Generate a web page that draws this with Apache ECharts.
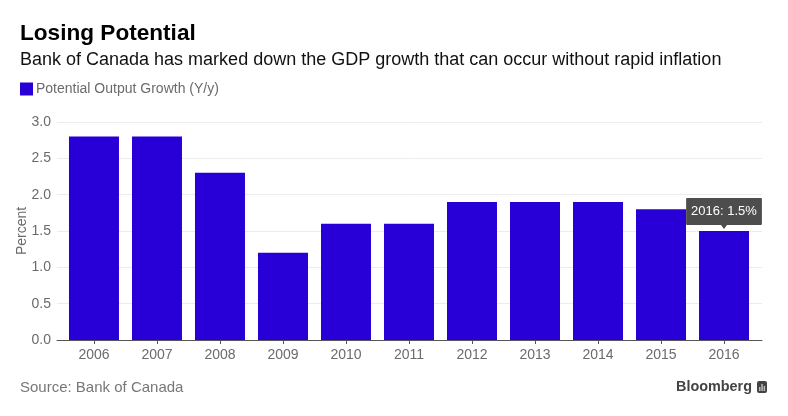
<!DOCTYPE html>
<html>
<head>
<meta charset="utf-8">
<style>
	html, body { margin: 0; padding: 0; background: #fff; }
	#chart { width: 788px; height: 416px; }
</style>
<script src="https://cdn.jsdelivr.net/npm/echarts@6/dist/echarts.min.js"></script>
</head>
<body>
<div id="chart"></div>
<script>
// Data
const years = [2006, 2007, 2008, 2009, 2010, 2011, 2012, 2013, 2014, 2015, 2016];
const growth = [2.8, 2.8, 2.3, 1.2, 1.6, 1.6, 1.9, 1.9, 1.9, 1.8, 1.5];
const seriesName = 'Potential Output Growth (Y/y)';

// Colors
const barColor = '#2800d7';
const greyText = '#6b6b6b';
const fontName = '"Liberation Sans", Arial, sans-serif';

const chart = echarts.init(document.getElementById('chart'), null, { renderer: 'canvas' });

const lastIndex = years.length - 1;

chart.setOption({
	animation: false,
	backgroundColor: '#ffffff',
	textStyle: { fontFamily: fontName },
	title: [
		{ text: 'Losing Potential', left: 20, top: 22, padding: 0,
			textStyle: { fontSize: 22.6, fontWeight: 'bold', color: '#000', fontFamily: fontName } },
		{ text: 'Bank of Canada has marked down the GDP growth that can occur without rapid inflation', left: 20, top: 51, padding: 0,
			textStyle: { fontSize: 18, fontWeight: 'normal', color: '#111', fontFamily: fontName } },
		{ text: 'Source: Bank of Canada', left: 20, top: 380, padding: 0,
			textStyle: { fontSize: 15, fontWeight: 'normal', color: '#777', fontFamily: fontName } },
		{ text: 'Bloomberg', left: 676, top: 380, padding: 0,
			textStyle: { fontSize: 14.4, fontWeight: 'bold', color: '#444', fontFamily: fontName } }
	],
	legend: {
		left: 20, top: 82, padding: 0,
		itemWidth: 13, itemHeight: 13, itemGap: 6,
		icon: 'rect',
		data: [seriesName],
		textStyle: { fontSize: 14, color: greyText, padding: [0, 0, 0, -2], fontFamily: fontName }
	},
	grid: { left: 57, right: 26, top: 122, bottom: 76, outerBoundsMode: 'none' },
	xAxis: {
		type: 'value',
		min: years[0] - 0.587,
		max: years[lastIndex] + 0.603,
		splitLine: { show: false },
		axisLine: { show: true, onZero: false, lineStyle: { color: '#555', width: 1 } },
		axisTick: { show: true, customValues: years, length: 4, lineStyle: { color: '#555' } },
		axisLabel: { customValues: years, formatter: v => String(v), fontSize: 14, color: greyText, margin: 8 }
	},
	yAxis: {
		type: 'value',
		min: 0, max: 3, interval: 0.5,
		name: 'Percent',
		nameLocation: 'middle',
		nameGap: 28,
		nameMoveOverlap: false,
		nameTextStyle: { fontSize: 14, color: greyText },
		axisLine: { show: false },
		axisTick: { show: false },
		splitLine: { lineStyle: { color: '#ececec', width: 1 } },
		axisLabel: { fontSize: 14, color: greyText, margin: 6, formatter: v => v.toFixed(1) }
	},
	series: [{
		name: seriesName,
		type: 'bar',
		barWidth: 50,
		itemStyle: { color: barColor },
		data: years.map((y, i) => {
			const point = { value: [y, growth[i]] };
			if (i === lastIndex) {
				point.label = {
					show: true,
					position: 'top',
					distance: 6,
					formatter: `${y}: ${growth[i]}%`,
					color: '#fff',
					fontSize: 13,
					backgroundColor: '#4d4d4d',
					borderRadius: 1,
					padding: [7, 5, 7, 5]
				};
			}
			return point;
		}),
		markPoint: {
			silent: true,
			symbol: 'triangle',
			symbolSize: [9, 6],
			symbolRotate: 180,
			symbolOffset: [0, -5],
			itemStyle: { color: '#4d4d4d' },
			label: { show: false },
			data: [{ coord: [years[lastIndex], growth[lastIndex]] }]
		}
	}],
	graphic: [
		// Bloomberg bar-chart mark
		{ type: 'rect', left: 757, top: 381, shape: { width: 10, height: 12, r: 2 }, style: { fill: '#444' } },
		{ type: 'rect', left: 759, top: 387, shape: { width: 1.5, height: 4 }, style: { fill: '#bbb' } },
		{ type: 'rect', left: 761.3, top: 384, shape: { width: 1.5, height: 7 }, style: { fill: '#bbb' } },
		{ type: 'rect', left: 763.6, top: 386, shape: { width: 1.5, height: 5 }, style: { fill: '#bbb' } }
	]
});
</script>
</body>
</html>
